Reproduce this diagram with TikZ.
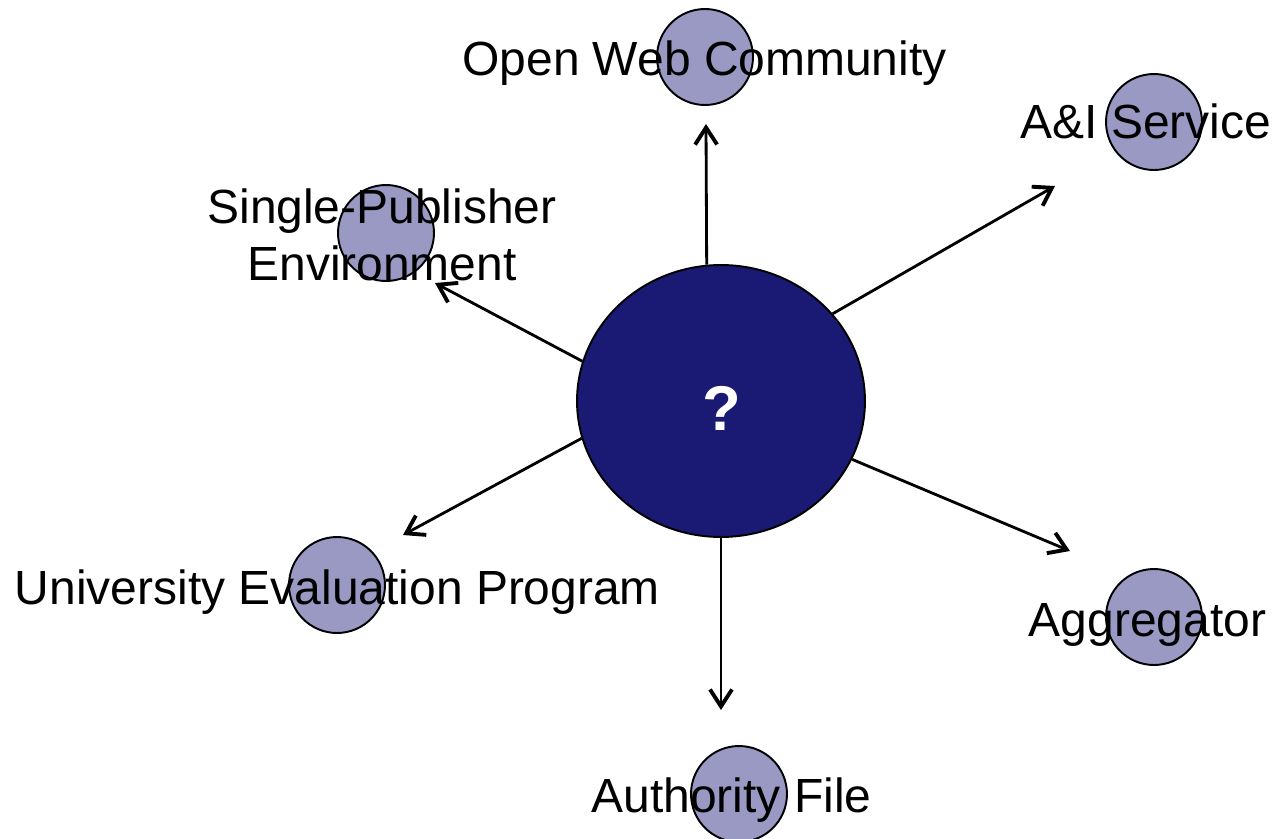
\documentclass[tikz,border=0pt]{standalone}
\usepackage{fontspec}
\setmainfont{Liberation Sans}
\usetikzlibrary{arrows.meta,shapes.geometric}
\definecolor{hubColor}{RGB}{26,26,116}
\definecolor{partnerColor}{RGB}{153,153,196}
\tikzset{partner/.style={circle, draw, fill=partnerColor, line width=1.1pt, minimum size=1.92cm, inner sep=0pt}}
\tikzset{partnerText/.style={align=center, inner sep=0pt, anchor=base, font=\fontsize{27.3}{32.4}\selectfont}}
\tikzset{hub/.style={ellipse, draw, fill=hubColor, line width=1.1pt, minimum width=5.76cm, minimum height=5.44cm, inner sep=0pt}}
\tikzset{link/.style={-{Straight Barb[length=0.34cm, width=0.44cm, line width=2.2pt]}, line width=1.6pt}}

\begin{document}
\begin{tikzpicture}[x=0.02cm, y=-0.02cm]
\useasboundingbox (0,0) rectangle (1276,839);
% Nodes
\node (Hub) [hub] at (721,401) {};
\node (QuestionMark) [text=white, inner sep=0pt, font=\fontsize{36}{40}\selectfont\bfseries] at (722,408) {?};

\node (OpenWeb) [partner] at (705,57) {};
\node (AIService) [partner] at (1154,122) {};
\node (SinglePublisher) [partner] at (386,233) {};
\node (University) [partner] at (337,585) {};
\node (Aggregator) [partner] at (1154,617) {};
\node (Authority) [partner] at (739,794) {};

\node (OpenWebText) [partnerText] at (704.5,75) {Open Web Community};
\node (AIServiceText) [partnerText] at (1146,138) {A\&I Service};
\node (SinglePublisherText) [partnerText] at (382,280) {Single-Publisher\\Environment};
\node (UniversityText) [partnerText] at (337.5,604) {University Evaluation Program};
\node (AggregatorText) [partnerText] at (1147.5,636) {Aggregator};
\node (AuthorityText) [partnerText] at (731.5,812) {Authority File};

\coordinate (OpenWebTip) at (706,124);
\coordinate (AIServiceTip) at (1055,186);
\coordinate (SinglePublisherTip) at (435,283);
\coordinate (UniversityTip) at (403,535);
\coordinate (AggregatorTip) at (1070,551);
\coordinate (AuthorityTip) at (721,710);

% Connectors
\begin{scope}[link]
\draw (Hub.96) -- (OpenWebTip);
\draw (Hub.38) -- (AIServiceTip);
\draw (Hub.164) -- (SinglePublisherTip);
\draw (Hub.195.5) -- (UniversityTip);
\draw (Hub.336) -- (AggregatorTip);
\draw (Hub.south) -- (AuthorityTip);
\end{scope}

\end{tikzpicture}
\end{document}
